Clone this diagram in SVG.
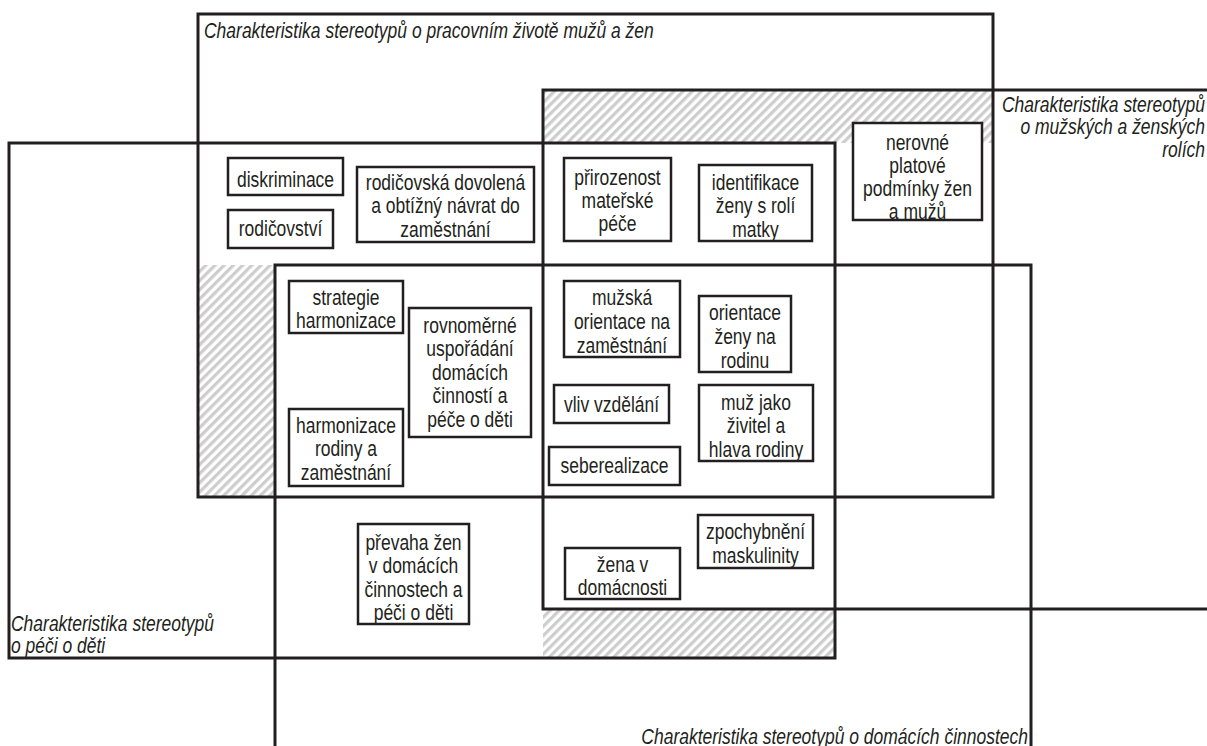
<svg xmlns="http://www.w3.org/2000/svg" width="1207" height="746" viewBox="0 0 1207 746">
<defs>
<pattern id="hatch" patternUnits="userSpaceOnUse" width="6.5" height="6.5" patternTransform="rotate(45)">
<rect x="0" y="0" width="6.5" height="6.5" fill="#ffffff"/>
<rect x="0" y="0" width="3.2" height="6.5" fill="#cdcdcd"/>
</pattern>
<clipPath id="c-prir"><rect x="564" y="158" width="107" height="83"/></clipPath>
<clipPath id="c-iden"><rect x="699" y="165" width="113" height="76"/></clipPath>
<clipPath id="c-nerov"><rect x="853" y="123" width="129" height="97"/></clipPath>
<clipPath id="c-muz"><rect x="699" y="385" width="114" height="76"/></clipPath>
<clipPath id="c-prev"><rect x="358" y="524" width="111" height="100"/></clipPath>
<clipPath id="c-zpoch"><rect x="698" y="515" width="115" height="53"/></clipPath>
</defs>
<style>
.hatch{fill:url(#hatch);stroke:none}
.area{fill:none;stroke:#231f20;stroke-width:3}
.box{fill:#ffffff;stroke:#231f20;stroke-width:2.5}
.t{font-family:"Liberation Sans",Arial,sans-serif;font-size:22px;fill:#231f20;text-anchor:middle}
.lab{font-family:"Liberation Sans",Arial,sans-serif;font-size:22px;font-style:italic;fill:#231f20}
</style>
<rect width="1207" height="746" fill="#ffffff"/>

<g id="hatched-areas">
<rect class="hatch" x="543" y="90" width="450" height="53"/>
<rect class="hatch" x="198" y="265" width="77" height="232"/>
<rect class="hatch" x="543" y="609" width="292" height="49"/>
</g>

<g id="area-pracovni-zivot">
<rect class="area" x="198" y="14" width="795" height="483"/>
<text class="lab" transform="matrix(0.795 0 0 1 204 0)" x="0" y="38">Charakteristika stereotypů o pracovním životě mužů a žen</text>
</g>
<g id="area-role">
<path class="area" d="M1210,90 H543 V609 H1210"/>
<text class="lab" transform="matrix(0.795 0 0 1 1205 0)" text-anchor="end"><tspan x="0" y="112">Charakteristika stereotypů</tspan><tspan x="0" y="134.5">o mužských a ženských</tspan><tspan x="0" y="157">rolích</tspan></text>
</g>
<g id="area-pece-o-deti">
<rect class="area" x="9" y="143" width="826" height="515"/>
<text class="lab" transform="matrix(0.795 0 0 1 11 0)"><tspan x="0" y="631">Charakteristika stereotypů</tspan><tspan x="0" y="653.5">o péči o děti</tspan></text>
</g>
<g id="area-domaci-cinnosti">
<path class="area" d="M275,750 V265 H1031 V750"/>
<text class="lab" transform="matrix(0.795 0 0 1 1028 0)" text-anchor="end" x="0" y="744">Charakteristika stereotypů o domácích činnostech</text>
</g>

<g id="connectors"></g>

<g id="n-diskriminace">
<rect class="box" x="228" y="158" width="115" height="37"/>
<text class="t" transform="matrix(0.795 0 0 1 285.5 0)" x="0" y="187">diskriminace</text>
</g>
<g id="n-rodicovstvi">
<rect class="box" x="228" y="210" width="105" height="38"/>
<text class="t" transform="matrix(0.795 0 0 1 280.5 0)" x="0" y="236">rodičovství</text>
</g>
<g id="n-rodicovska-dovolena">
<rect class="box" x="357" y="167" width="177" height="75"/>
<text class="t" transform="matrix(0.795 0 0 1 445.5 0)"><tspan x="0" y="190">rodičovská dovolená</tspan><tspan x="0" y="213.5">a obtížný návrat do</tspan><tspan x="0" y="237">zaměstnání</tspan></text>
</g>
<g id="n-prirozenost">
<rect class="box" x="564" y="158" width="107" height="83"/>
<g clip-path="url(#c-prir)"><text class="t" transform="matrix(0.795 0 0 1 617.5 0)"><tspan x="0" y="185">přirozenost</tspan><tspan x="0" y="208">mateřské</tspan><tspan x="0" y="231">péče</tspan></text></g>
</g>
<g id="n-identifikace">
<rect class="box" x="699" y="165" width="113" height="76"/>
<g clip-path="url(#c-iden)"><text class="t" transform="matrix(0.795 0 0 1 755.5 0)"><tspan x="0" y="190">identifikace</tspan><tspan x="0" y="213.5">ženy s rolí</tspan><tspan x="0" y="237">matky</tspan></text></g>
</g>
<g id="n-nerovne">
<rect class="box" x="853" y="123" width="129" height="97"/>
<g clip-path="url(#c-nerov)"><text class="t" transform="matrix(0.795 0 0 1 917.5 0)"><tspan x="0" y="150">nerovné</tspan><tspan x="0" y="173">platové</tspan><tspan x="0" y="196">podmínky žen</tspan><tspan x="0" y="219">a mužů</tspan></text></g>
</g>
<g id="n-strategie">
<rect class="box" x="289" y="281" width="114" height="52"/>
<text class="t" transform="matrix(0.795 0 0 1 346 0)"><tspan x="0" y="305">strategie</tspan><tspan x="0" y="328">harmonizace</tspan></text>
</g>
<g id="n-rovnomerne">
<rect class="box" x="409" y="308" width="122" height="129"/>
<text class="t" transform="matrix(0.795 0 0 1 470 0)"><tspan x="0" y="333">rovnoměrné</tspan><tspan x="0" y="356.5">uspořádání</tspan><tspan x="0" y="380">domácích</tspan><tspan x="0" y="403.5">činností a</tspan><tspan x="0" y="427">péče o děti</tspan></text>
</g>
<g id="n-harmonizace">
<rect class="box" x="289" y="409" width="114" height="77"/>
<text class="t" transform="matrix(0.795 0 0 1 346 0)"><tspan x="0" y="433">harmonizace</tspan><tspan x="0" y="456.5">rodiny a</tspan><tspan x="0" y="480">zaměstnání</tspan></text>
</g>
<g id="n-muzska-orientace">
<rect class="box" x="564" y="281" width="116" height="76"/>
<text class="t" transform="matrix(0.795 0 0 1 622 0)"><tspan x="0" y="305">mužská</tspan><tspan x="0" y="329">orientace na</tspan><tspan x="0" y="353">zaměstnání</tspan></text>
</g>
<g id="n-orientace-zeny">
<rect class="box" x="699" y="296" width="92" height="76"/>
<text class="t" transform="matrix(0.795 0 0 1 745 0)"><tspan x="0" y="320">orientace</tspan><tspan x="0" y="344">ženy na</tspan><tspan x="0" y="368">rodinu</tspan></text>
</g>
<g id="n-vliv-vzdelani">
<rect class="box" x="554" y="385" width="115" height="38"/>
<text class="t" transform="matrix(0.795 0 0 1 611.5 0)" x="0" y="412">vliv vzdělání</text>
</g>
<g id="n-muz-zivitel">
<rect class="box" x="699" y="385" width="114" height="76"/>
<g clip-path="url(#c-muz)"><text class="t" transform="matrix(0.795 0 0 1 756 0)"><tspan x="0" y="410">muž jako</tspan><tspan x="0" y="433.5">živitel a</tspan><tspan x="0" y="457">hlava rodiny</tspan></text></g>
</g>
<g id="n-seberealizace">
<rect class="box" x="549" y="447" width="131" height="38"/>
<text class="t" transform="matrix(0.795 0 0 1 614.5 0)" x="0" y="473">seberealizace</text>
</g>
<g id="n-prevaha-zen">
<rect class="box" x="358" y="524" width="111" height="100"/>
<g clip-path="url(#c-prev)"><text class="t" transform="matrix(0.795 0 0 1 413.5 0)"><tspan x="0" y="550">převaha žen</tspan><tspan x="0" y="573.5">v domácích</tspan><tspan x="0" y="597">činnostech a</tspan><tspan x="0" y="620.5">péči o děti</tspan></text></g>
</g>
<g id="n-zena-v-domacnosti">
<rect class="box" x="565" y="548" width="115" height="51"/>
<text class="t" transform="matrix(0.795 0 0 1 622.5 0)"><tspan x="0" y="572">žena v</tspan><tspan x="0" y="595">domácnosti</tspan></text>
</g>
<g id="n-zpochybneni">
<rect class="box" x="698" y="515" width="115" height="53"/>
<g clip-path="url(#c-zpoch)"><text class="t" transform="matrix(0.795 0 0 1 755.5 0)"><tspan x="0" y="539">zpochybnění</tspan><tspan x="0" y="563">maskulinity</tspan></text></g>
</g>
</svg>
